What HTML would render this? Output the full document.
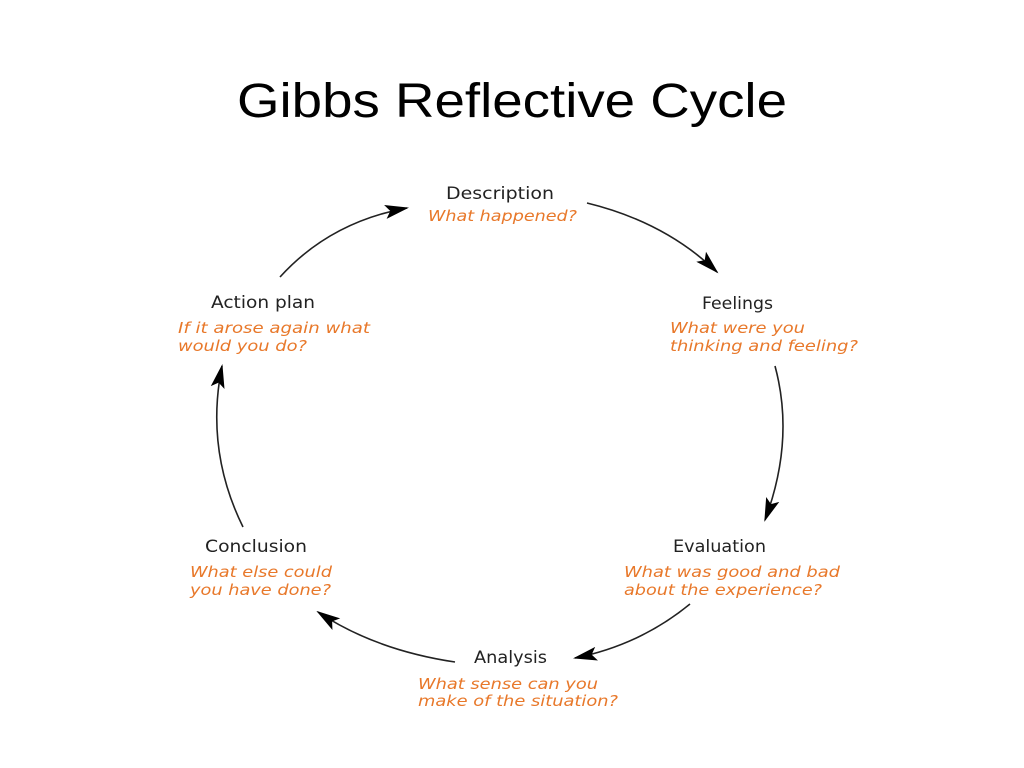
<!DOCTYPE html>
<html><head><meta charset="utf-8"><style>html,body{margin:0;padding:0;background:#fff;}svg{display:block}</style></head>
<body>
<svg width="1024" height="768" viewBox="0 0 1024 768" xmlns="http://www.w3.org/2000/svg">
<defs>
<marker id="a" markerWidth="24" markerHeight="16" refX="22" refY="8" orient="auto" markerUnits="userSpaceOnUse">
<path d="M0,1 L24,8 L0,15 L5,8 Z" fill="#000"/>
</marker>
</defs>
<text x="512" y="117" text-anchor="middle" font-family="Liberation Sans, sans-serif" font-size="48" fill="#000" textLength="550" lengthAdjust="spacingAndGlyphs">Gibbs Reflective Cycle</text>

<g fill="none" stroke="#222" stroke-width="1.6" marker-end="url(#a)">
<path d="M280,277 Q330,222 407,208"/>
<path d="M587,203 Q665,222 717,272"/>
<path d="M775,366 Q795,440 765,520"/>
<path d="M690,604 Q640,645 575,658"/>
<path d="M455,662 Q375,650 318,612"/>
<path d="M243,527 Q205,450 222,366"/>
</g>

<g font-family="DejaVu Sans, sans-serif" font-size="17" fill="#222">
<text x="446" y="199" textLength="108" lengthAdjust="spacingAndGlyphs">Description</text>
<text x="702" y="309" textLength="71" lengthAdjust="spacingAndGlyphs">Feelings</text>
<text x="673" y="552" textLength="93" lengthAdjust="spacingAndGlyphs">Evaluation</text>
<text x="474" y="663" textLength="73" lengthAdjust="spacingAndGlyphs">Analysis</text>
<text x="205" y="552" textLength="102" lengthAdjust="spacingAndGlyphs">Conclusion</text>
<text x="211" y="308" textLength="104" lengthAdjust="spacingAndGlyphs">Action plan</text>
</g>
<g font-family="DejaVu Sans, sans-serif" font-style="italic" font-size="15" fill="#e8782a">
<text x="428" y="221" textLength="149" lengthAdjust="spacingAndGlyphs">What happened?</text>
<text x="670" y="333" textLength="135" lengthAdjust="spacingAndGlyphs">What were you</text>
<text x="670" y="351" textLength="188" lengthAdjust="spacingAndGlyphs">thinking and feeling?</text>
<text x="624" y="577" textLength="216" lengthAdjust="spacingAndGlyphs">What was good and bad</text>
<text x="624" y="595" textLength="198" lengthAdjust="spacingAndGlyphs">about the experience?</text>
<text x="418" y="689" textLength="180" lengthAdjust="spacingAndGlyphs">What sense can you</text>
<text x="418" y="706" textLength="200" lengthAdjust="spacingAndGlyphs">make of the situation?</text>
<text x="190" y="577" textLength="142" lengthAdjust="spacingAndGlyphs">What else could</text>
<text x="190" y="595" textLength="141" lengthAdjust="spacingAndGlyphs">you have done?</text>
<text x="178" y="333" textLength="192" lengthAdjust="spacingAndGlyphs">If it arose again what</text>
<text x="178" y="351" textLength="129" lengthAdjust="spacingAndGlyphs">would you do?</text>
</g>
</svg>
</body></html>
